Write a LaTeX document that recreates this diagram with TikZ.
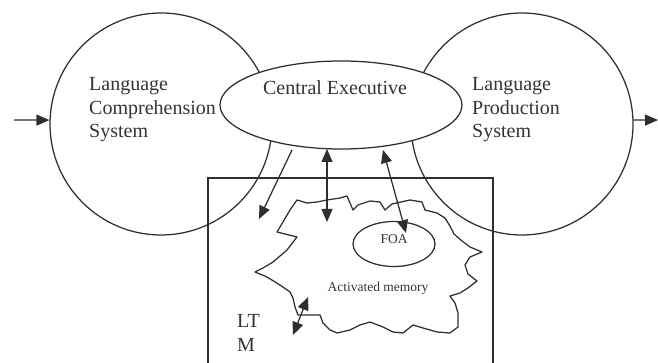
\documentclass[tikz,border=0pt]{standalone}
\usepackage{fontspec}
\setmainfont{Liberation Serif}
\usetikzlibrary{arrows.meta,shapes.geometric}
\begin{document}
\begin{tikzpicture}[x=1pt,y=-1pt,
  ln/.style={draw=black!82, line width=1.25pt},
  tip/.tip={Triangle[length=13pt,width=11pt]},
  arr/.style={ln, -tip},
  darr/.style={ln, tip-tip},
  big/.style={font=\fontsize{20}{23.5}\selectfont, text=black!80, inner sep=0pt},
  small/.style={font=\fontsize{13.5}{15}\selectfont, text=black!80, inner sep=0pt}]
\useasboundingbox (0,0) rectangle (658,363);
\clip (0,0) rectangle (658,363);
% big circles
\node[circle, ln, minimum size=222pt, inner sep=0pt] (lc) at (161,124) {};
\node[circle, ln, minimum size=222pt, inner sep=0pt] (rc) at (522,124) {};
% LTM box
\draw[ln] (208,178) rectangle (493,375);
% central executive
\node[ellipse, ln, fill=white, minimum width=242pt, minimum height=88pt, inner sep=0pt] (ce) at (341,105) {};
\node[big] (cet) at (335,88) {Central Executive};
\node[big, anchor=west, align=left] (lct) at (89,110) {Language\\Comprehension\\System};
\node[big, anchor=west, align=left] (rct) at (472,110) {Language\\Production\\System};
% input / output arrows
\coordinate (in) at (14,120);
\coordinate (out) at (658,120);
\draw[arr] (in) -- (lc.178);
\draw[arr] (rc.2) -- (out);
% activated memory blob
\draw[ln, line join=round] (297,200) -- (307,203) -- (317,202) -- (327,200) -- (340,198) -- (347,196)
 -- (353,210) -- (358,205) -- (370,201) -- (380,202) -- (385,210) -- (392,204) -- (410,200)
 -- (422,202) -- (425,210) -- (437,213) -- (445,218) -- (450,226) -- (454,234) -- (462,241)
 -- (470,247) -- (482,252) -- (470,257) -- (465,265) -- (468,274) -- (477,281) -- (468,288)
 -- (460,293) -- (450,296) -- (455,303) -- (458,313) -- (458,327) -- (450,333) -- (437,332)
 -- (423,328) -- (413,325) -- (403,333) -- (393,332) -- (383,327) -- (370,322) -- (360,325)
 -- (350,330) -- (337,333) -- (330,330) -- (323,323) -- (320,315) -- (298,315) -- (295,307)
 -- (293,298) -- (290,292) -- (280,285) -- (267,277) -- (255,272) -- (263,268) -- (273,262)
 -- (287,250) -- (297,237) -- (277,232) -- (283,222) -- (290,210) -- cycle;
% FOA
\node[ellipse, ln, minimum width=82pt, minimum height=45pt, inner sep=0pt] (foa) at (394,244) {};
\node[small] (foat) at (394,239) {FOA};
\node[small] (amt) at (378,288) {Activated memory};
\node[big, anchor=west, align=left] (ltm) at (237,333) {LT\\M};
% arrows
\coordinate (a1s) at (292,150);
\coordinate (a1e) at (259,219);
\draw[arr] (a1s) -- (a1e);
\coordinate (a2s) at (327,149);
\coordinate (a2e) at (327,222);
\draw[darr] (a2s) -- (a2e);
\coordinate (a3s) at (383,150);
\coordinate (a3e) at (406,233);
\draw[darr] (a3s) -- (a3e);
\coordinate (a4s) at (293,335);
\coordinate (a4e) at (308,297);
\draw[darr] (a4s) -- (a4e);
\end{tikzpicture}
\end{document}
